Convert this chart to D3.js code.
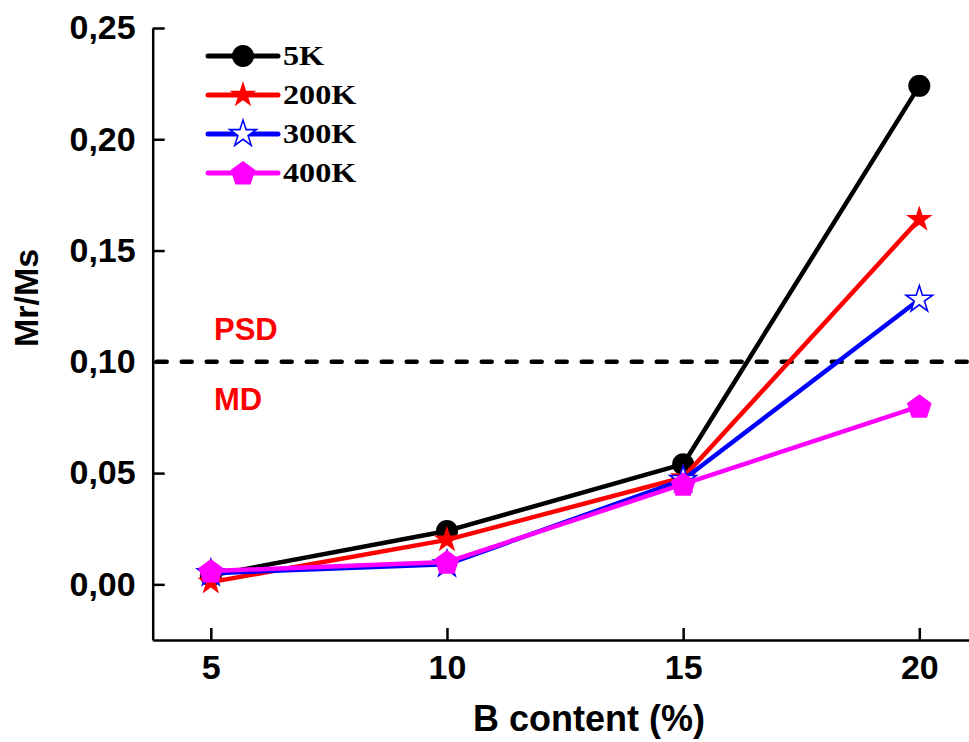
<!DOCTYPE html>
<html>
<head>
<meta charset="utf-8">
<script src="https://cdn.jsdelivr.net/npm/d3@7"></script>
<style>
  html, body { margin: 0; padding: 0; background: #fff; }
  svg { display: block; }
</style>
</head>
<body>
<svg id="chart" width="969" height="742"></svg>
<script>
// Remanence ratio Mr/Ms versus boron content at four temperatures
const bContent = [5, 10, 15, 20];
const seriesNames = ["5K", "200K", "300K", "400K"];
const mr5K   = [0.004, 0.024, 0.054, 0.224];
const mr200K = [0.001, 0.020, 0.048, 0.164];
const mr300K = [0.005, 0.009, 0.047, 0.128];
const mr400K = [0.006, 0.010, 0.045, 0.080];
const yTicks = [0.00, 0.05, 0.10, 0.15, 0.20, 0.25];
const xTicks = [5, 10, 15, 20];
const threshold = 0.10;   // PSD / MD boundary

const svg = d3.select("#chart");

const x = d3.scaleLinear().domain([3.77, 21.2]).range([152.7, 976]);
const y = d3.scaleLinear().domain([-0.025, 0.25]).range([640, 28]);

const sansBold = "'Liberation Sans', Arial, sans-serif";
const serifBold = "'Liberation Serif', 'Times New Roman', serif";

// star path with given outer radius
function starPath(R) {
  const r = R * 0.382, pts = [];
  for (let i = 0; i < 10; i++) {
    const rad = i % 2 === 0 ? R : r;
    const a = -Math.PI / 2 + i * Math.PI / 5;
    pts.push([rad * Math.cos(a), rad * Math.sin(a)]);
  }
  return "M" + pts.map(p => p[0].toFixed(2) + "," + p[1].toFixed(2)).join("L") + "Z";
}
function pentagonPath(R) {
  const pts = [];
  for (let i = 0; i < 5; i++) {
    const a = -Math.PI / 2 + i * 2 * Math.PI / 5;
    pts.push([R * Math.cos(a), R * Math.sin(a) + 1]);
  }
  return "M" + pts.map(p => p[0].toFixed(2) + "," + p[1].toFixed(2)).join("L") + "Z";
}

const series = [
  { name: seriesNames[0], values: mr5K,   color: "#000000", marker: "circle" },
  { name: seriesNames[1], values: mr200K, color: "#ff0000", marker: "star" },
  { name: seriesNames[2], values: mr300K, color: "#0000ff", marker: "openstar" },
  { name: seriesNames[3], values: mr400K, color: "#ff00ff", marker: "pentagon" }
];

function drawMarker(g, s) {
  if (s.marker === "circle") {
    g.append("circle").attr("r", 11).attr("fill", s.color);
  } else if (s.marker === "star") {
    g.append("path").attr("d", starPath(14)).attr("fill", s.color);
  } else if (s.marker === "openstar") {
    g.append("path").attr("d", starPath(14)).attr("fill", "#fff")
      .attr("stroke", s.color).attr("stroke-width", 1.6).attr("stroke-linejoin", "miter");
  } else {
    g.append("path").attr("d", pentagonPath(13)).attr("fill", s.color);
  }
}

// Axes
const yAxis = d3.axisLeft(y).tickValues(yTicks).tickSizeInner(-12).tickSizeOuter(0)
  .tickPadding(17).tickFormat(d => d3.format(".2f")(d).replace(".", ","));
const xAxis = d3.axisBottom(x).tickValues(xTicks).tickSizeInner(-12).tickSizeOuter(0)
  .tickPadding(15).tickFormat(d3.format("d"));

const gy = svg.append("g").attr("transform", `translate(${x.range()[0]},0)`).call(yAxis);
const gx = svg.append("g").attr("transform", `translate(0,${y.range()[0]})`).call(xAxis);
[gx, gy].forEach(g => {
  g.select(".domain").attr("stroke", "#000").attr("stroke-width", 2.5);
  g.selectAll(".tick line").attr("stroke", "#000").attr("stroke-width", 2.5);
  g.selectAll(".tick text").attr("fill", "#000")
    .style("font-family", sansBold).style("font-weight", "bold").style("font-size", "34px");
});

// Threshold line between the two domain states
svg.append("line")
  .attr("x1", x.range()[0] + 4).attr("x2", 969)
  .attr("y1", y(threshold)).attr("y2", y(threshold))
  .attr("stroke", "#000").attr("stroke-width", 4.5)
  .attr("stroke-dasharray", "10 15").attr("stroke-linecap", "round");

svg.append("text").attr("x", 214).attr("y", 340).text("PSD")
  .attr("fill", "#ff0000").style("font-family", sansBold).style("font-weight", "bold").style("font-size", "31px");
svg.append("text").attr("x", 214).attr("y", 410).text("MD")
  .attr("fill", "#ff0000").style("font-family", sansBold).style("font-weight", "bold").style("font-size", "31px");

// Series
const line = d3.line().x((d, i) => x(bContent[i])).y(d => y(d));
series.forEach(s => {
  const g = svg.append("g");
  g.append("path").attr("d", line(s.values)).attr("fill", "none")
    .attr("stroke", s.color).attr("stroke-width", 4.5).attr("stroke-linejoin", "round");
  s.values.forEach((v, i) => {
    const m = g.append("g").attr("transform", `translate(${x(bContent[i])},${y(v)})`);
    drawMarker(m, s);
  });
});

// Legend
const legend = svg.append("g").attr("transform", "translate(208,56)");
series.forEach((s, i) => {
  const row = legend.append("g").attr("transform", `translate(0,${i * 39})`);
  row.append("line").attr("x1", 0).attr("x2", 70).attr("y1", 0).attr("y2", 0)
    .attr("stroke", s.color).attr("stroke-width", 5).attr("stroke-linecap", "round");
  const m = row.append("g").attr("transform", "translate(35,0)");
  drawMarker(m, s);
  row.append("text").attr("transform", "translate(75,9) scale(1.15,1)").text(s.name)
    .attr("fill", "#000").style("font-family", serifBold).style("font-weight", "bold").style("font-size", "28px");
});

// Axis titles
svg.append("text").attr("x", 589).attr("y", 731).attr("text-anchor", "middle")
  .text("B content (%)").attr("fill", "#000")
  .style("font-family", sansBold).style("font-weight", "bold").style("font-size", "36px");
svg.append("text").attr("transform", "translate(38,298) rotate(-90)").attr("text-anchor", "middle")
  .text("Mr/Ms").attr("fill", "#000")
  .style("font-family", sansBold).style("font-weight", "bold").style("font-size", "34px");
</script>
</body>
</html>
